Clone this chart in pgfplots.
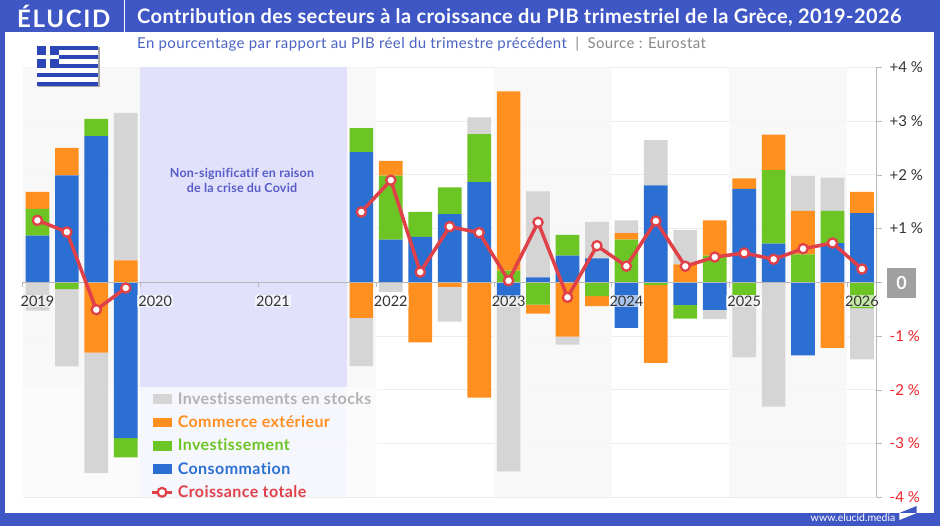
\documentclass[border=0pt]{standalone}
\usepackage{fontspec}
\usepackage{pgfplots}
\usepackage{pgfplotstable}
\pgfplotsset{compat=1.18}
\setmainfont{Lato}[Ligatures={TeX,NoCommon}]
\newcommand\ls[1]{\addfontfeatures{LetterSpace=#1}}

\definecolor{frameblue}{RGB}{63,87,197}
\definecolor{conscol}{RGB}{43,111,211}
\definecolor{invcol}{RGB}{108,197,36}
\definecolor{comcol}{RGB}{255,143,31}
\definecolor{stocol}{RGB}{213,213,213}
\definecolor{stotext}{RGB}{178,178,178}
\definecolor{linecol}{RGB}{224,65,72}
\definecolor{flagblue}{RGB}{44,70,184}
\definecolor{covid}{RGB}{223,223,252}
\definecolor{covidlow}{RGB}{246,246,253}
\definecolor{covidtext}{RGB}{88,92,200}
\definecolor{yearband}{RGB}{247,247,247}
\definecolor{gridcol}{RGB}{236,236,236}
\definecolor{axiscol}{RGB}{184,184,184}
\definecolor{subcol}{RGB}{74,98,196}
\definecolor{srccol}{RGB}{136,136,136}
\definecolor{zerobox}{RGB}{160,160,160}
\definecolor{negred}{RGB}{238,36,44}
\definecolor{labcol}{RGB}{51,51,51}

% contributions in points of GDP, quarter index 0 = 2019Q1
\pgfplotstableread{
x  cons   inv    com    sto    total
0  0.867  0.497  0.316 -0.528  1.153
1  1.990 -0.125  0.510 -1.438  0.936
2  2.720  0.320 -1.310 -2.240 -0.510
3 -2.897 -0.360  0.410  2.740 -0.106
7  0      0      0      0      nan
11 2.420  0.450 -0.660 -0.900  1.308
12 0.793  1.190  0.274 -0.180  1.900
13 0.843  0.465 -1.116  0      0.190
14 1.270  0.497 -0.087 -0.646  1.035
15 1.866  0.893 -2.147  0.310  0.923
16 -0.270 0.216  3.337 -3.246  0.030
17 0.093 -0.416 -0.168  1.600  1.116
18 0.495  0.385 -1.012 -0.149 -0.280
19 0.446 -0.255 -0.186  0.676  0.680
20 -0.850 0.793  0.124  0.236  0.300
21 1.804 -0.050 -1.450  0.840  1.140
22 -0.420 -0.255 0.335  0.638  0.298
23 -0.515 0.495  0.658 -0.168  0.470
24 1.736 -0.240  0.198 -1.156  0.545
25 0.718  1.371  0.657 -2.314  0.428
26 -1.358 0.521  0.806  0.651  0.625
27 0.731  0.596 -1.222  0.619  0.731
28 1.289 -0.480  0.391 -0.953  0.247
}\gdp

\pgfplotsset{
  base/.style={
    at={(22.7pt,-497.3pt)}, anchor=south west,
    scale only axis, width=854pt, height=430pt,
    xmin=-0.5, xmax=28.5, ymin=-4, ymax=4,
  },
  bars/.style={base, hide axis, ybar stacked, bar width=23.7pt},
  flat/.style={draw=none, fill=#1, forget plot},
  swatch/.style={legend image code/.code={\fill[#1] (0pt,-4.3pt) rectangle (18pt,4.3pt);}},
}

\begin{document}
\begin{tikzpicture}
\useasboundingbox (0pt,0pt) rectangle (940pt,-526pt);
\fill[frameblue] (0pt,0pt) rectangle (940pt,-526pt);
\fill[white] (4.7pt,-31.7pt) rectangle (934pt,-513pt);

% background: grid, year bands, y axis
\begin{axis}[base,
  axis y line=right, axis x line=none,
  axis line style={-, draw=axiscol, line width=0.8pt},
  ytick={-4,...,4},
  yticklabels={\textcolor{negred}{-4 \%},\textcolor{negred}{-3 \%},\textcolor{negred}{-2 \%},\textcolor{negred}{-1 \%},{},+1 \%,+2 \%,+3 \%,+4 \%},
  yticklabel style={font=\fontsize{15}{18}\selectfont, text=labcol, anchor=west, xshift=4.5pt},
  tick align=outside, major tick length=5pt,
  tick style={draw=axiscol, line width=0.6pt},
  ymajorgrids, grid style={gridcol, line width=0.7pt},
]
\addplot[flat=yearband, opacity=0.85] coordinates {(-0.5,-4)(3.5,-4)(3.5,4)(-0.5,4)} -- cycle;
\addplot[flat=yearband, opacity=0.85] coordinates {(10.5,-4)(11.5,-4)(11.5,4)(10.5,4)} -- cycle;
\addplot[flat=yearband, opacity=0.85] coordinates {(15.5,-4)(19.5,-4)(19.5,4)(15.5,4)} -- cycle;
\addplot[flat=yearband, opacity=0.85] coordinates {(23.5,-4)(27.5,-4)(27.5,4)(23.5,4)} -- cycle;
% pale veil behind the legend
\addplot[flat=white, opacity=0.55] coordinates {(-0.5,-4)(11.75,-4)(11.75,-1.95)(-0.5,-1.95)} -- cycle;
\addplot[flat=covid, opacity=0.92] coordinates {(3.5,-1.95)(10.5,-1.95)(10.5,4)(3.5,4)} -- cycle;
\addplot[flat=covidlow, opacity=0.92] coordinates {(3.5,-4)(10.5,-4)(10.5,-1.95)(3.5,-1.95)} -- cycle;
\end{axis}

% positive parts of the stacks
\begin{axis}[bars]
\addplot[flat=conscol] table[x=x, y expr={max(\thisrow{cons},0)}] {\gdp};
\addplot[flat=invcol] table[x=x, y expr={max(\thisrow{inv},0)}] {\gdp};
\addplot[flat=comcol] table[x=x, y expr={max(\thisrow{com},0)}] {\gdp};
\addplot[flat=stocol] table[x=x, y expr={max(\thisrow{sto},0)}] {\gdp};
\end{axis}

% negative parts of the stacks
\begin{axis}[bars]
\addplot[flat=conscol] table[x=x, y expr={min(\thisrow{cons},0)}] {\gdp};
\addplot[flat=invcol] table[x=x, y expr={min(\thisrow{inv},0)}] {\gdp};
\addplot[flat=comcol] table[x=x, y expr={min(\thisrow{com},0)}] {\gdp};
\addplot[flat=stocol] table[x=x, y expr={min(\thisrow{sto},0)}] {\gdp};
\end{axis}

% zero line, year labels, total growth, legend
\begin{axis}[base,
  axis x line=middle, axis y line=none,
  axis line style={-, draw=axiscol, line width=0.8pt},
  hide obscured x ticks=false,
  xtick={-0.5,3.5,...,27.5}, xticklabels={},
  extra x ticks={0,4,...,28},
  extra x tick labels={2019,2020,2021,2022,2023,2024,2025,2026},
  extra x tick style={tick style={draw=none}},
  xticklabel style={font=\fontsize{14.5}{17}\selectfont, text=labcol, fill=white, fill opacity=0.6, text opacity=1, inner sep=1pt, anchor=north, yshift=-7pt},
  tick align=outside, major tick length=5pt,
  tick style={draw=axiscol, line width=0.6pt},
  ytick=\empty,
  unbounded coords=jump,
  legend style={at={(axis cs:3.85,-1.95)}, anchor=north west, draw=none, fill=none,
    font=\bfseries\fontsize{16}{18}\selectfont\ls{2.6},
    row sep=6pt, inner sep=0pt, outer sep=0pt, yshift=-3pt,
    /tikz/every odd column/.append style={column sep=2.5pt}},
  legend cell align=left,
]
\addlegendimage{swatch=stocol}
\addlegendentry{\textcolor{stotext}{Investissements en stocks}}
\addlegendimage{swatch=comcol}
\addlegendentry{\textcolor{comcol}{Commerce extérieur}}
\addlegendimage{swatch=invcol}
\addlegendentry{\textcolor{invcol}{Investissement}}
\addlegendimage{swatch=conscol}
\addlegendentry{\textcolor{conscol}{Consommation}}
\addplot[linecol, line width=3.5pt, mark=*, mark size=4.6pt,
  mark options={fill=white, draw=linecol, line width=2.3pt},
  legend image code/.code={
    \draw[linecol, line width=2.5pt] (-1pt,0pt) -- (19pt,0pt);
    \draw[linecol, fill=white, line width=2.2pt] (9pt,0pt) circle (4.4pt);}]
  table[x=x, y=total] {\gdp};
\addlegendentry{\textcolor{linecol}{Croissance totale}}
\end{axis}

% zero tag on the y axis
\node[fill=zerobox, text=white, font=\bfseries\fontsize{18}{20}\selectfont, minimum width=29pt, minimum height=30pt, inner sep=0pt] at (901.5pt,-283pt) {0};

% note over the Covid gap
\node[text=covidtext, align=center, font=\bfseries\fontsize{12.5}{15}\selectfont\ls{1.5}] at (242pt,-180.5pt) {Non-significatif en raison\\de la crise du Covid};

% header
\node[anchor=west, text=white, font=\bfseries\fontsize{24}{26}\selectfont\ls{7}, inner sep=0pt] at (17pt,-16.5pt) {ÉLUCID};
\draw[white, line width=0.8pt] (124.5pt,0pt) -- (124.5pt,-32pt);
\node[anchor=west, text=white, font=\bfseries\fontsize{20}{22}\selectfont\ls{2.05}, inner sep=0pt] at (137pt,-17pt) {Contribution des secteurs à la croissance du PIB trimestriel de la Grèce, 2019-2026};
\node[anchor=west, font=\fontsize{15}{16}\selectfont\ls{2.6}, inner sep=0pt] at (137pt,-44.5pt) {\textcolor{subcol}{En pourcentage par rapport au PIB réel du trimestre précédent}\textcolor{srccol}{\ \ |\ \ Source : Eurostat}};

% flag
\fill[black!35] (38.2pt,-47.5pt) rectangle (99.8pt,-87.5pt);
\fill[white] (36.7pt,-46pt) rectangle (98.3pt,-86pt);
\foreach \i in {0,2,4,6,8} {
  \fill[flagblue] (36.7pt,-46pt-\i*4.444pt) rectangle (98.3pt,-46pt-\i*4.444pt-4.444pt);
}
\fill[flagblue] (36.7pt,-46pt) rectangle (59pt,-68.2pt);
\fill[white] (45.6pt,-46pt) rectangle (50.1pt,-68.2pt);
\fill[white] (36.7pt,-54.9pt) rectangle (59pt,-59.3pt);

% footer
\node[anchor=east, text=white, font=\fontsize{10.5}{12}\selectfont, inner sep=0pt] at (895.5pt,-517.5pt) {www.elucid.media};
\fill[frameblue] (899.3pt,-513pt) -- (916.7pt,-506pt) -- (916.7pt,-513pt) -- cycle;
\fill[white] (899.3pt,-513pt) -- (916.7pt,-513pt) -- (899.3pt,-520pt) -- cycle;
\end{tikzpicture}
\end{document}
